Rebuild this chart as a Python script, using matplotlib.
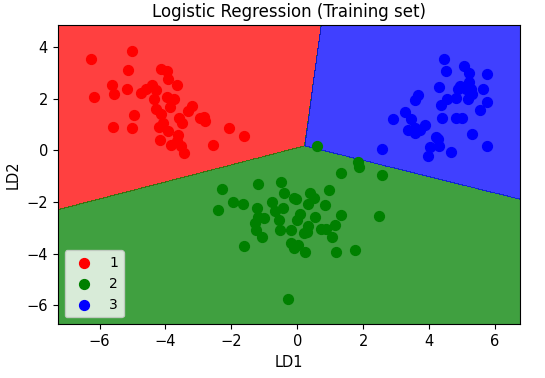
import matplotlib
matplotlib.use("Agg")
import matplotlib.pyplot as plt
import numpy as np
from matplotlib.colors import ListedColormap

# LD1 / LD2 values of the training points
ld1_class1 = [-6.27, -6.17, -5.01, -5.13, -5.61, -5.56, -5.16, -4.74, -4.58, -4.42,
              -4.30, -4.35, -4.14, -3.95, -3.93, -3.66, -3.95, -3.74, -3.87, -4.29,
              -4.14, -4.95, -5.59, -5.01, -4.21, -4.07, -3.93, -3.58, -3.49, -3.31,
              -3.21, -2.96, -2.84, -2.80, -2.06, -1.61, -2.57, -4.16, -3.84, -3.63,
              -3.66, -3.52, -3.44]
ld2_class1 = [3.53, 2.08, 3.86, 3.10, 2.52, 2.20, 2.39, 2.24, 2.39, 2.52,
              2.34, 2.01, 3.17, 3.08, 2.78, 2.52, 2.08, 2.01, 1.68, 1.59,
              1.40, 1.36, 0.92, 0.88, 0.92, 1.05, 0.75, 1.27, 1.07, 1.53,
              1.72, 1.27, 1.31, 1.14, 0.88, 0.56, 0.23, 0.40, 0.21, 0.58,
              0.36, 0.17, -0.09]

ld1_class2 = [0.60, 1.85, 1.87, 1.32, 2.56, -2.28, -1.20, -0.48, -0.40, -2.41,
              -1.96, -1.64, -1.23, -1.20, -1.02, -0.77, -0.67, -0.56, -0.42, -0.11,
              -0.03, 0.07, 0.00, 0.39, 0.50, 0.32, 0.97, 0.85, 0.53, 1.32,
              1.16, 0.71, 0.87, 0.32, 0.29, 0.21, -0.19, -0.53, -1.27, -1.25,
              -1.06, -1.62, -0.19, -0.11, 0.02, 0.23, 1.06, 1.19, 1.74, 2.49,
              -0.28]
ld2_class2 = [0.19, -0.45, -0.65, -0.89, -0.96, -1.49, -1.29, -1.22, -1.64, -2.29,
              -1.99, -2.06, -2.23, -2.57, -2.61, -1.99, -2.35, -2.68, -2.23, -1.86,
              -1.90, -2.48, -2.68, -1.64, -1.84, -2.06, -1.54, -2.12, -2.57, -2.51,
              -2.90, -3.03, -3.03, -2.94, -3.16, -3.20, -3.07, -3.07, -2.83, -3.07,
              -3.35, -3.71, -3.58, -3.78, -3.65, -3.93, -3.35, -3.93, -3.84, -2.55,
              -5.74]

ld1_class3 = [2.56, 2.90, 3.28, 3.35, 3.46, 3.56, 3.56, 3.72, 3.88, 3.56,
              3.66, 3.96, 4.04, 4.20, 4.27, 4.31, 4.29, 4.38, 4.36, 4.47,
              4.52, 4.56, 4.67, 4.81, 4.81, 4.99, 4.89, 5.05, 5.21, 5.21,
              5.26, 5.32, 5.17, 5.12, 5.29, 5.54, 5.63, 5.77, 5.77, 5.77,
              4.94]
ld2_class3 = [0.06, 1.20, 1.50, 0.79, 1.20, 0.88, 0.66, 0.79, 0.97, 1.94,
              2.13, -0.22, 0.14, 0.53, 0.45, 0.17, 2.47, 1.24, 1.75, 3.53,
              3.08, 2.01, -0.05, 2.02, 1.24, 1.24, 2.37, 3.27, 2.99, 2.65,
              2.37, 2.17, 1.98, 2.37, 0.62, 1.57, 2.39, 2.95, 1.88, 0.19,
              2.50]

class_labels = [1, 2, 3]
class_colors = ("red", "green", "blue")


def fit_binary(X, t, C=1.0, iters=50):
    # liblinear-style: L2 on weights and intercept, Newton steps
    Xb = np.column_stack([X, np.ones(len(X))])
    w = np.zeros(Xb.shape[1])
    for _ in range(iters):
        p = 1.0 / (1.0 + np.exp(-(Xb @ w)))
        grad = w + C * Xb.T @ (p - t)
        H = np.eye(len(w)) + C * (Xb.T * (p * (1 - p))) @ Xb
        w -= np.linalg.solve(H, grad)
    return w


X_set = np.column_stack([
    np.concatenate([ld1_class1, ld1_class2, ld1_class3]),
    np.concatenate([ld2_class1, ld2_class2, ld2_class3]),
])
y_set = np.concatenate([
    np.full(len(ld1_class1), 0),
    np.full(len(ld1_class2), 1),
    np.full(len(ld1_class3), 2),
])

# one-vs-rest classifiers, argmax of decision functions
weights = np.array([fit_binary(X_set, (y_set == k).astype(float)) for k in range(3)])

X1, X2 = np.meshgrid(
    np.arange(X_set[:, 0].min() - 1, X_set[:, 0].max() + 1, 0.01),
    np.arange(X_set[:, 1].min() - 1, X_set[:, 1].max() + 1, 0.01),
)
grid = np.column_stack([X1.ravel(), X2.ravel(), np.ones(X1.size)])
Z = np.argmax(grid @ weights.T, axis=1).reshape(X1.shape)

fig = plt.figure(figsize=(5.45, 3.78), dpi=100)
ax = fig.add_axes([0.106, 0.142, 0.848, 0.791])

cmap = ListedColormap(class_colors)
ax.contourf(X1, X2, Z, levels=[-0.5, 0.5, 1.5, 2.5], alpha=0.75, cmap=cmap)
ax.set_xlim(X1.min(), X1.max())
ax.set_ylim(X2.min(), X2.max())

for i, j in enumerate(class_labels):
    pts = X_set[y_set == i]
    ax.scatter(pts[:, 0], pts[:, 1], color=class_colors[i], label=j, s=50)

ax.set_title("Logistic Regression (Training set)", fontsize=12)
ax.set_xlabel("LD1", fontsize=10.5)
ax.set_ylabel("LD2", fontsize=10.5)
ax.tick_params(labelsize=10.5)
ax.legend(loc="lower left", fontsize=10)

fig.savefig("out.png", dpi=100)
